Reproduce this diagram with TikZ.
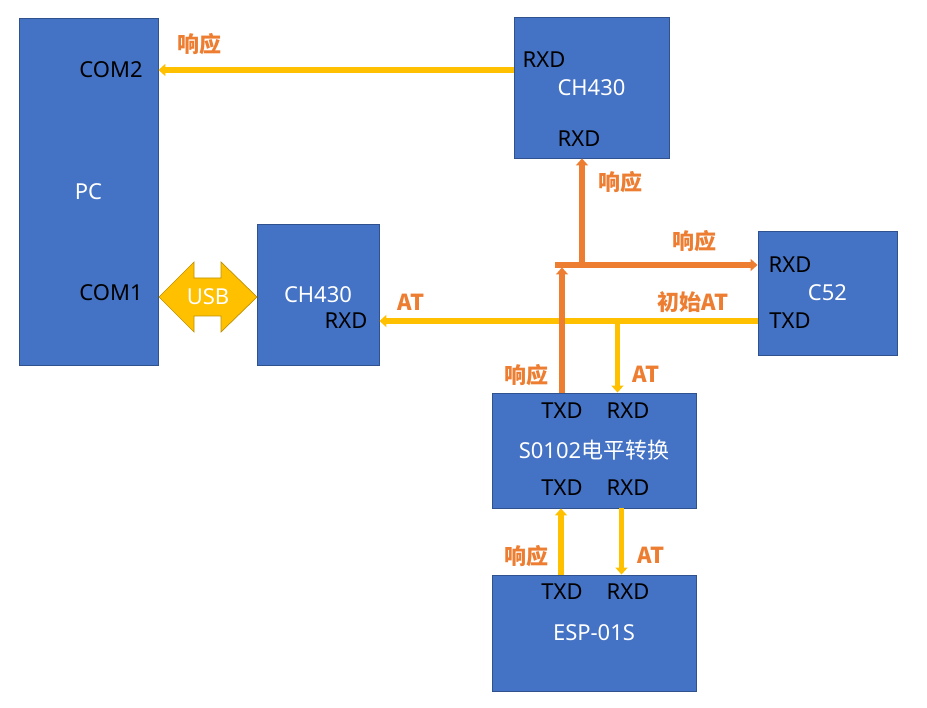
\documentclass[tikz,border=0pt]{standalone}
\usepackage{fontspec}
\setmainfont{Noto Sans}
\newfontfamily\cjk{Noto Sans CJK SC}
\usepackage{tikz}
\usetikzlibrary{arrows.meta,positioning,calc}

\definecolor{boxblue}{HTML}{4472C4}
\definecolor{boxedge}{HTML}{2F528F}
\definecolor{gold}{HTML}{FFC000}
\definecolor{golddark}{HTML}{BF9000}
\definecolor{rust}{HTML}{ED7D31}

\begin{document}
\begin{tikzpicture}[
  x=1pt, y=-1pt,
  font=\fontsize{22}{26}\selectfont,
  block/.style={rectangle, draw=boxedge, fill=boxblue, line width=0.9pt,
                text=white, inner sep=0pt},
  port/.style={text=black, inner sep=0pt},
  tag/.style={text=rust, inner sep=0pt, font=\fontsize{22}{26}\selectfont\cjk\bfseries},
  yarrow/.style={draw=gold, line width=5.5pt,
                 -{Triangle[width=12pt,length=7pt]}},
  oarrow/.style={draw=rust, line width=5.5pt,
                 -{Triangle[width=12pt,length=7pt]}},
]
  \useasboundingbox (0,0) rectangle (927,708);

  % blocks
  \node[block, minimum width=139pt, minimum height=347pt] (pc) at (88.5,191.5) {PC};
  \node[block, minimum width=155pt, minimum height=141pt] (ch430a) at (591.5,87.5) {CH430};
  \node[block, minimum width=122pt, minimum height=141pt] (ch430b) at (318,294.5) {CH430};
  \node[block, minimum width=139pt, minimum height=124pt] (c52) at (827.5,293) {C52};
  \node[block, minimum width=204pt, minimum height=115pt] (s0102) at (594,450.5)
    {S0102{\cjk 电平转换}};
  \node[block, minimum width=204pt, minimum height=116pt] (esp) at (594,633) {ESP-01S};

  % pin labels
  \node[port] (pccom2) at (111,70) {COM2};
  \node[port] (pccom1) at (111,293) {COM1};
  \node[port] (ch430arxd) at (544,60) {RXD};
  \node[port] (ch430arxdb) at (579,139) {RXD};
  \node[port] (ch430brxd) at (346,321) {RXD};
  \node[port] (c52rxd) at (790,265) {RXD};
  \node[port] (c52txd) at (790,321) {TXD};
  \node[port] (s0102txd) at (562,411) {TXD};
  \node[port] (s0102rxd) at (628,411) {RXD};
  \node[port] (s0102txdb) at (562,488) {TXD};
  \node[port] (s0102rxdb) at (628,488) {RXD};
  \node[port] (esptxd) at (562,592) {TXD};
  \node[port] (esprxd) at (628,592) {RXD};

  % usb link
  \coordinate (usbc) at (208,297);
  \filldraw[fill=gold, draw=golddark, line width=0.7pt, shift={(usbc)}]
    (-49,0) -- (-14,-35) -- (-14,-19) -- (13,-19) -- (13,-35) -- (49,0)
    -- (13,35) -- (13,19) -- (-14,19) -- (-14,35) -- cycle;
  \node[text=white] (usb) at (usbc) {USB};

  % AT path
  \coordinate (atsplit) at (617.5,321.5);
  \draw[yarrow] (c52.west |- c52txd) -- (ch430b.east |- c52txd);
  \draw[yarrow] (atsplit) -- (atsplit |- s0102.north);
  \draw[yarrow] ($(s0102.south)+(27.5,0)$) -- ($(esp.north)+(27.5,0)$);

  % response path
  \coordinate (barstart) at (555,265);
  \coordinate (barjoin) at (582,265);
  \draw[yarrow] ($(esp.north)+(-33,0)$) -- ($(s0102.south)+(-33,0)$);
  \draw[oarrow, shorten >=2.5pt] (s0102.north -| s0102txd) -- (s0102txd |- barstart);
  \draw[oarrow] (barstart) -- (c52.west |- c52rxd);
  \draw[oarrow] (barjoin) -- (barjoin |- ch430a.south);
  \draw[yarrow] (ch430a.west |- pccom2) -- (pc.east |- pccom2);

  % arrow labels
  \node[tag] (t1) at (199,44) {响应};
  \node[tag] (t2) at (620,182) {响应};
  \node[tag] (t3) at (694,241) {响应};
  \node[tag] (t4) at (411,302) {AT};
  \node[tag] (t5) at (693,302) {初始AT};
  \node[tag] (t6) at (526,375) {响应};
  \node[tag] (t7) at (646,374) {AT};
  \node[tag] (t8) at (526,556) {响应};
  \node[tag] (t9) at (651,555) {AT};

\end{tikzpicture}
\end{document}
